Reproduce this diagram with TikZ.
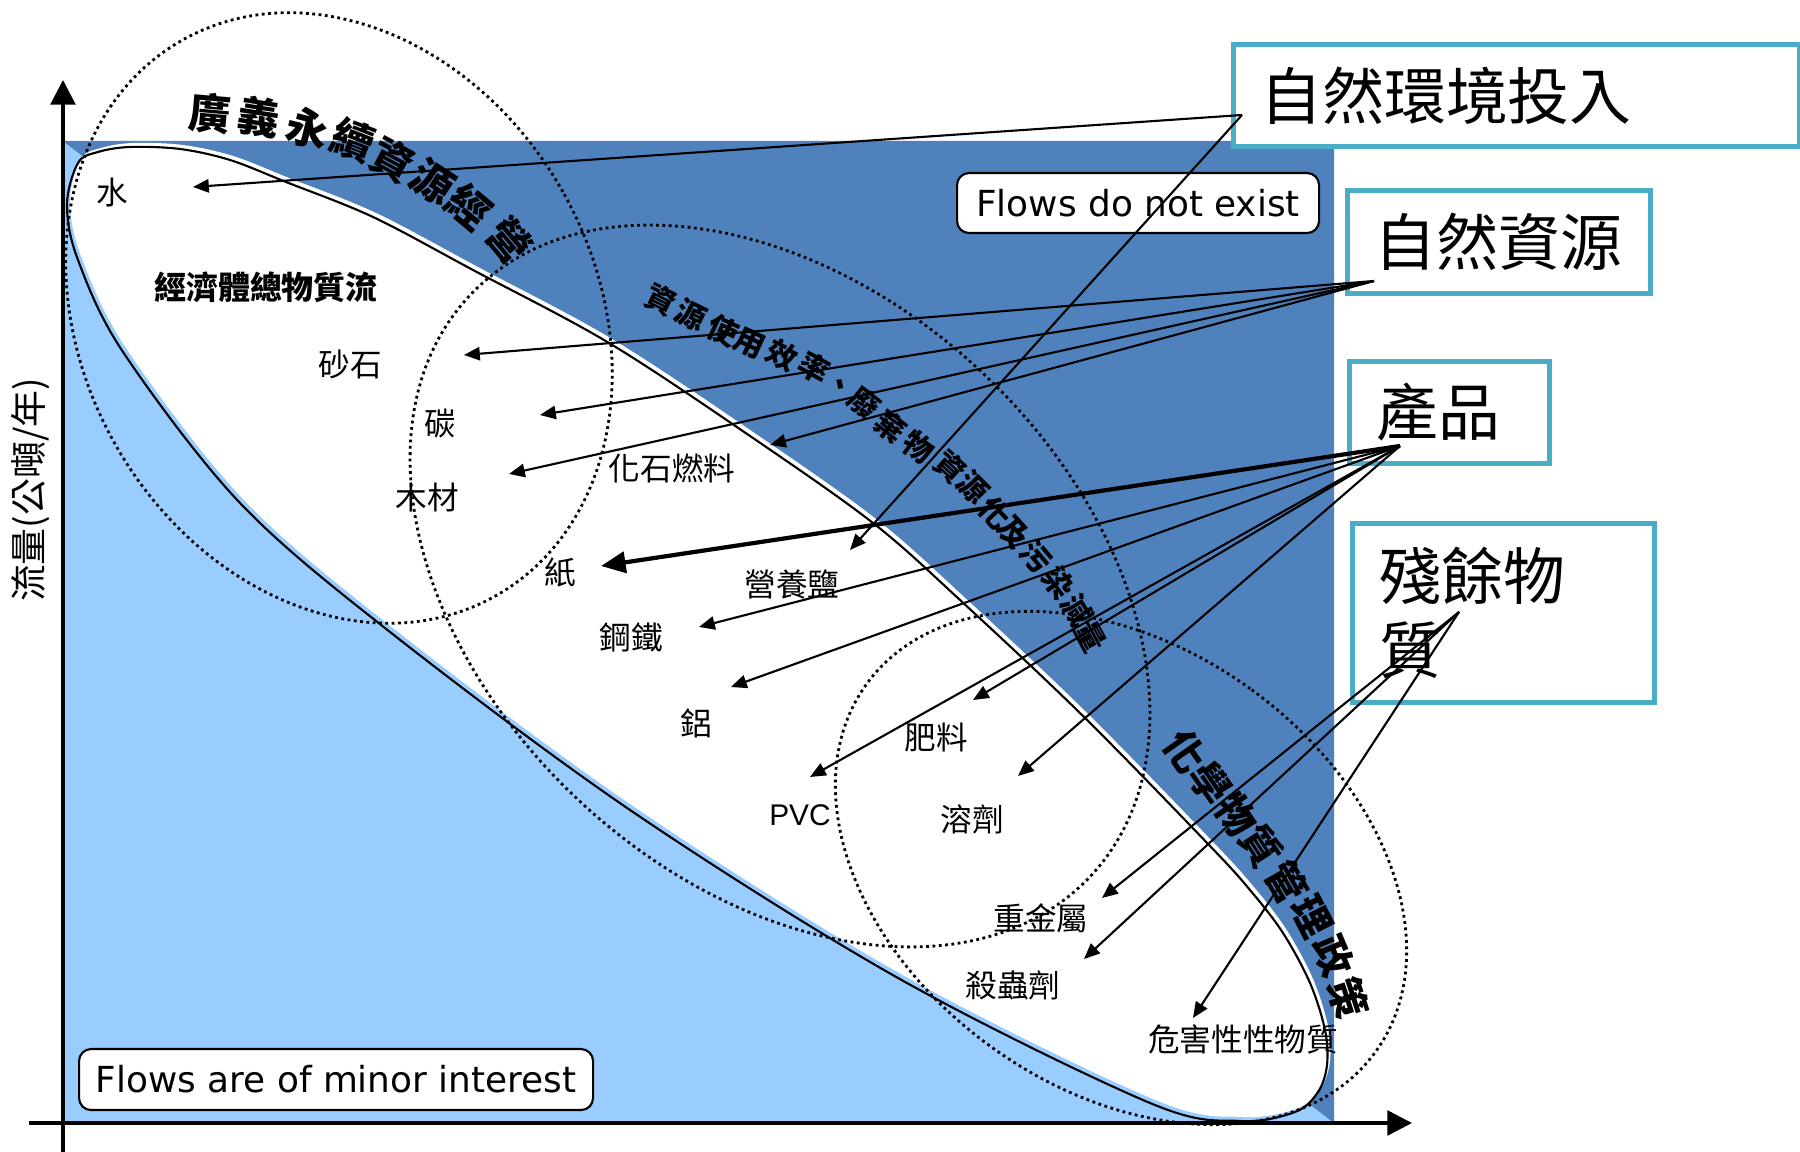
\documentclass[tikz,border=0pt]{standalone}
\usepackage{fontspec}
\usetikzlibrary{arrows.meta}
\newfontfamily\cjk{Noto Sans CJK TC}
\newfontfamily\dvs{DejaVu Sans}
\newfontfamily\lsans{Liberation Sans}
\definecolor{darkblu}{HTML}{4F81BD}
\definecolor{lightblu}{HTML}{99CCFF}
\definecolor{tealb}{HTML}{4BACC6}
\begin{document}
\begin{tikzpicture}[x=0.1mm, y=-0.1mm,
  lbl/.style={font=\cjk\fontsize{9}{10}\selectfont, inner sep=0pt},
  bigbox/.style={draw=tealb, line width=1.4pt, fill=white, font=\cjk\fontsize{17.6}{21.3}\selectfont, align=left, anchor=north west, inner xsep=2.7mm, inner ysep=0pt},
  flowbox/.style={draw=black, line width=0.6pt, fill=white, rounded corners=1.2mm, font=\dvs\fontsize{10.2}{12}\selectfont, anchor=north west, inner sep=0pt},
  arr/.style={line width=0.6pt, -{Triangle[length=4.5pt, width=3.8pt]}},
  thickarr/.style={line width=1.2pt, -{Triangle[length=7pt, width=6pt]}},
  axisline/.style={line width=1pt, -{Triangle[length=7pt, width=7pt]}},
  ell/.style={line width=0.8pt, dash pattern=on 0.8pt off 1pt},
  rta/.style={font=\cjk\bfseries\fontsize{12}{12}\selectfont, inner sep=0pt},
  rtb/.style={font=\cjk\bfseries\fontsize{8.6}{9}\selectfont, inner sep=0pt},
  rtc/.style={font=\cjk\bfseries\fontsize{11.4}{12}\selectfont, inner sep=0pt},
]
\useasboundingbox (0,0) rectangle (1800,1152);
\fill[white] (0,0) rectangle (1800,1152);
% plot regions
\fill[lightblu] (63,141) rectangle (1334,1123);
\fill[darkblu] (63,141) -- (1334,141) -- (1334,1123) -- cycle;
% white leaf
\fill[white, shift={(3,-4)}] plot[smooth cycle, tension=0.55] coordinates {
 (67,205) (78,163) (98,152) (130,147) (180,149) (230,160) (286,182) (373,217)
 (473,270) (609,343) (750,436) (873,523) (960,600) (1083,716) (1210,846)
 (1250,890) (1283,933) (1310,983) (1325,1030) (1327,1065) (1318,1092)
 (1295,1112) (1240,1121) (1150,1103) (898,978) (630,810) (390,632)
 (240,503) (123,352) (78,260)};
\draw[line width=0.6pt] plot[smooth cycle, tension=0.55] coordinates {
 (67,205) (78,163) (98,152) (130,147) (180,149) (230,160) (286,182) (373,217)
 (473,270) (609,343) (750,436) (873,523) (960,600) (1083,716) (1210,846)
 (1250,890) (1283,933) (1310,983) (1325,1030) (1327,1065) (1318,1092)
 (1295,1112) (1240,1121) (1150,1103) (898,978) (630,810) (390,632)
 (240,503) (123,352) (78,260)};
% dotted ellipses
\draw[ell, shift={(339,318)}, rotate=29.4] (0,0) ellipse [x radius=25.7mm, y radius=31.9mm];
\draw[ell, shift={(780,586)}, rotate=47] (0,0) ellipse [x radius=29.4mm, y radius=42.5mm];
\draw[ell, shift={(1121,868)}, rotate=54.2] (0,0) ellipse [x radius=22.1mm, y radius=31.4mm];
% axes
\coordinate (yb) at (63,1152);
\coordinate (yt) at (63,80);
\coordinate (xl) at (29,1123);
\coordinate (xr) at (1412,1123);
\draw[axisline] (yb) -- (yt);
\draw[axisline] (xl) -- (xr);
\node[font=\cjk\fontsize{10.5}{10.5}\selectfont, rotate=90, inner sep=0pt] (ylab) at (31,490) {流量(公噸/年)};
% boxes
\node[bigbox, text width=51.2mm, minimum height=10.2mm] (natenv) at (1231,42) {自然環境投入};
\node[bigbox, text width=24.9mm, minimum height=10.3mm] (natres) at (1345,188) {自然資源};
\node[bigbox, text width=14.6mm, minimum height=10.2mm] (prod) at (1347,359) {產品};
\node[bigbox, text width=24.8mm, minimum height=17.9mm] (resid) at (1350,521) {殘餘物\\質};
\node[flowbox, minimum width=36.2mm, minimum height=6mm] (fdne) at (956,172) {Flows do not exist};
\node[flowbox, minimum width=51.4mm, minimum height=6.1mm] (fmin) at (78,1048) {Flows are of minor interest};
% rotated labels
\foreach \c/\px/\py/\a [count=\i] in {廣/210/113/-5, 義/259/117/-9, 永/308/128/-14, 續/353/140/-21, 資/393/160/-28, 源/433/182/-33, 經/469/207/-40, 營/509/240/-50}
  \node[rta, rotate=\a] (ga\i) at (\px,\py) {\c};
\foreach \c/\px/\py/\a [count=\i] in {資/661/300/-26, 源/691/315/-26, 使/723/330/-25, 用/750/343/-25, 效/782/355/-27, 率/814/368/-29, 、/839/387/-33, 廢/864/403/-38, 棄/891/427/-38, 物/918/447/-36, 資/950/467/-42, 源/973/487/-45, 化/995/513/-47, 及/1014/533/-48, 污/1036/557/-50, 染/1059/583/-53, 減/1077/610/-58, 量/1091/637/-62}
  \node[rtb, rotate=\a] (gb\i) at (\px,\py) {\c};
\foreach \c/\px/\py/\a [count=\i] in {化/1185/751/-55, 學/1210/783/-55, 物/1236/815/-56, 質/1261/846/-57, 管/1287/882/-60, 理/1312/917/-63, 政/1333/956/-67, 策/1348/998/-72}
  \node[rtc, rotate=\a] (gc\i) at (\px,\py) {\c};
% labels
\node[lbl] (water) at (112,193) {水};
\node[lbl, font=\cjk\bfseries\fontsize{9.1}{10}\selectfont] (econ) at (266,287) {經濟體總物質流};
\node[lbl] (sand) at (350,364) {砂石};
\node[lbl] (carbon) at (440,424) {碳};
\node[lbl] (wood) at (427,497) {木材};
\node[lbl] (fossil) at (672,468) {化石燃料};
\node[lbl] (paper) at (560,573) {紙};
\node[lbl] (nutri) at (792,585) {營養鹽};
\node[lbl] (steel) at (631,637) {鋼鐵};
\node[lbl] (alum) at (696,723) {鋁};
\node[lbl] (fert) at (936,738) {肥料};
\node[lbl, font=\lsans\fontsize{8.5}{10}\selectfont] (pvc) at (800,815) {PVC};
\node[lbl] (solv) at (972,819) {溶劑};
\node[lbl] (heavy) at (1041,918) {重金屬};
\node[lbl] (pest) at (1013,985) {殺蟲劑};
\node[lbl] (haz) at (1243,1039) {危害性性物質};
% arrow sources and tips
\coordinate (sN) at (1242,115);
\coordinate (sR) at (1374,281);
\coordinate (sP) at (1400,446);
\coordinate (sW) at (1459,612);
\coordinate (tWater) at (193,187);
\coordinate (tNutri) at (850,550);
\coordinate (tSand) at (464,355);
\coordinate (tCarbon) at (540,415);
\coordinate (tFossil) at (770,445);
\coordinate (tWood) at (509,474);
\coordinate (tPaper) at (601,566);
\coordinate (tSteel) at (699,627);
\coordinate (tAlum) at (731,687);
\coordinate (tFert) at (973,700);
\coordinate (tPVC) at (810,777);
\coordinate (tSolv) at (1018,776);
\coordinate (tHeavy) at (1102,898);
\coordinate (tPest) at (1084,959);
\coordinate (tHaz) at (1193,1018);
\draw[arr] (sN) -- (tWater);
\draw[arr] (sN) -- (tNutri);
\draw[arr] (sR) -- (tSand);
\draw[arr] (sR) -- (tCarbon);
\draw[arr] (sR) -- (tFossil);
\draw[arr] (sR) -- (tWood);
\draw[thickarr] (sP) -- (tPaper);
\draw[arr] (sP) -- (tSteel);
\draw[arr] (sP) -- (tAlum);
\draw[arr] (sP) -- (tFert);
\draw[arr] (sP) -- (tPVC);
\draw[arr] (sP) -- (tSolv);
\draw[arr] (sW) -- (tHeavy);
\draw[arr] (sW) -- (tPest);
\draw[arr] (sW) -- (tHaz);
\end{tikzpicture}
\end{document}
